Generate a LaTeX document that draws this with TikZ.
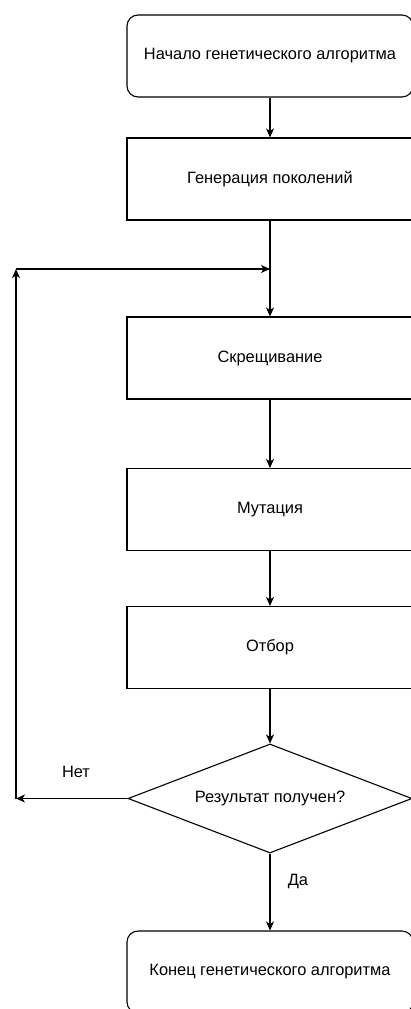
\documentclass[tikz,border=0pt]{standalone}
\usepackage{fontspec}
\setmainfont{Liberation Sans}
\usetikzlibrary{shapes.geometric,arrows.meta}
\tikzset{
  txt/.style={font=\fontsize{16.4}{19}\selectfont},
  box/.style={draw, line width=1.1pt, minimum width=286pt, minimum height=82pt, inner sep=0pt, txt},
  term/.style={box, rounded corners=11pt},
  decision/.style={draw, diamond, aspect=2.6, line width=1.1pt, minimum width=284pt, minimum height=109pt, inner sep=0pt, txt},
  arr/.style={line width=1.1pt, -{Stealth[length=9pt, width=8pt, inset=2.5pt]}},
  lbl/.style={txt, inner sep=0pt}
}
\begin{document}
\begin{tikzpicture}[x=1pt, y=-1pt]
  \useasboundingbox (0,0) rectangle (411,1009);
  \fill[white] (0,0) rectangle (411,1009);
  \node[term] (start) at (270,56) {Начало генетического алгоритма};
  \node[box] (gen) at (270,179) {Генерация поколений};
  \node[box] (cross) at (270,358) {Скрещивание};
  \node[box] (mut) at (270,509.5) {Мутация};
  \node[box] (sel) at (270,647.5) {Отбор};
  \node[decision] (dec) at (270,798.5) {Результат получен?};
  \node[term] (fin) at (270,972) {Конец генетического алгоритма};
  \coordinate (lb) at (16,798.5);
  \coordinate (lt) at (16,269);
  \coordinate (join) at (270,269);
  \draw[arr] (start) -- (gen);
  \draw[arr] (gen) -- (cross);
  \draw[arr] (cross) -- (mut);
  \draw[arr] (mut) -- (sel);
  \draw[arr] (sel) -- (dec);
  \draw[arr] (dec.south) -- (fin);
  \draw[arr] (dec.west) -- (lb);
  \draw[arr] (lb) -- (lt);
  \draw[arr] (lt) -- (join);
  \node[lbl] (no) at (76,772) {Нет};
  \node[lbl] (yes) at (298,881) {Да};
\end{tikzpicture}
\end{document}
